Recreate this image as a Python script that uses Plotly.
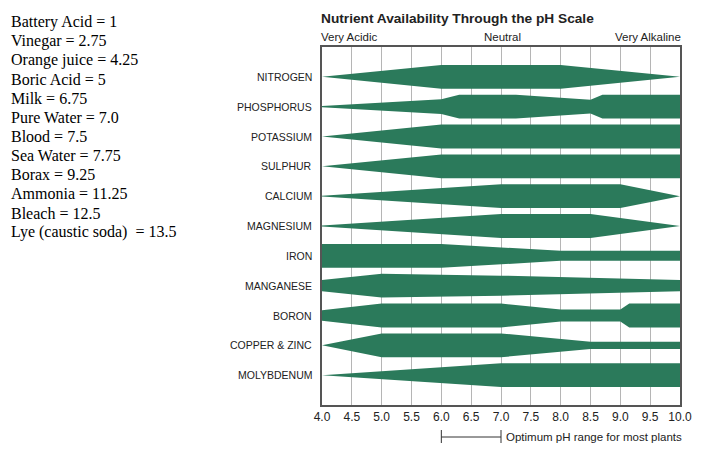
import plotly.graph_objects as go

# ---------------- data ----------------
household_items = ["Battery Acid = 1", "Vinegar = 2.75", "Orange juice = 4.25", "Boric Acid = 5",
                   "Milk = 6.75", "Pure Water = 7.0", "Blood = 7.5", "Sea Water = 7.75",
                   "Borax = 9.25", "Ammonia = 11.25", "Bleach = 12.5",
                   "Lye (caustic soda)\u00a0\u00a0= 13.5"]

nutrients = ["NITROGEN", "PHOSPHORUS", "POTASSIUM", "SULPHUR", "CALCIUM", "MAGNESIUM",
             "IRON", "MANGANESE", "BORON", "COPPER & ZINC", "MOLYBDENUM"]

# pH break points and relative availability (1 = full band) above / below the centre line
nitrogen_ph = [4.0, 6.0, 8.0, 10.0]
nitrogen_w = [0.0, 1.0, 1.0, 0.0]

phosphorus_ph = [4.0, 6.0, 6.3, 7.25, 8.5, 8.7, 10.0]
phosphorus_w = [0.05, 0.62, 1.0, 1.0, 0.58, 1.0, 1.0]

potassium_ph = [4.0, 6.0, 10.0]
potassium_w = [0.0, 1.0, 1.0]

sulphur_ph = [4.0, 6.0, 10.0]
sulphur_w = [0.0, 1.0, 1.0]

calcium_ph = [4.0, 7.0, 9.0, 10.0]
calcium_w = [0.03, 1.0, 1.0, 0.0]

magnesium_ph = [4.0, 7.0, 8.5, 10.0]
magnesium_w = [0.05, 1.0, 1.0, 0.0]

iron_ph = [4.0, 6.0, 8.0, 10.0]
iron_w = [1.0, 1.0, 0.42, 0.42]

manganese_ph = [4.0, 5.0, 7.0, 10.0]
manganese_w = [0.47, 1.0, 0.84, 0.47]

boron_ph = [4.0, 5.0, 7.0, 8.0, 9.0, 9.15, 10.0]
boron_w = [0.43, 1.0, 1.0, 0.5, 0.5, 1.0, 1.0]

copper_zinc_ph = [4.0, 5.0, 7.0, 8.5, 10.0]
copper_zinc_w = [0.0, 1.0, 1.0, 0.3, 0.3]

molybdenum_ph = [4.0, 7.0, 10.0]
molybdenum_w = [0.0, 1.0, 1.0]

profiles = [(nitrogen_ph, nitrogen_w), (phosphorus_ph, phosphorus_w), (potassium_ph, potassium_w),
            (sulphur_ph, sulphur_w), (calcium_ph, calcium_w), (magnesium_ph, magnesium_w),
            (iron_ph, iron_w), (manganese_ph, manganese_w), (boron_ph, boron_w),
            (copper_zinc_ph, copper_zinc_w), (molybdenum_ph, molybdenum_w)]

tick_values = [4.0, 4.5, 5.0, 5.5, 6.0, 6.5, 7.0, 7.5, 8.0, 8.5, 9.0, 9.5, 10.0]
tick_labels = ["4.0", "4.5", "5.0", "5.5", "6.0", "6.5", "7.0", "7.5", "8.0", "8.5", "9.0", "9.5", "10.0"]

optimum_range = [6.0, 7.0]

# ---------------- styling ----------------
GREEN = "#2b7a5b"
HALF = 0.4  # half-thickness of a full band, in row units
OFF = 8     # page body margin
W, H = 722 - OFF, 452 - OFF
L, R, T, B = 322 - OFF, 42, 47 - OFF, 47
PH_ = H - T - B
SANS = "Liberation Sans, Arial, sans-serif"
NARROW = "Liberation Sans Narrow, Arial Narrow, Liberation Sans, Arial, sans-serif"


def py(pix):
    """page pixel y -> paper y"""
    return (H - B - (pix - OFF)) / PH_


def px(pix):
    """page pixel x -> paper x"""
    return ((pix - OFF) - L) / (W - L - R)


fig = go.Figure()
for i, (ph, w) in enumerate(profiles):
    xs = list(ph) + list(reversed(ph))
    ys = [i - v * HALF for v in w] + [i + v * HALF for v in reversed(w)]
    fig.add_trace(go.Scatter(x=xs, y=ys, fill="toself", fillcolor=GREEN, mode="lines",
                             line=dict(width=0, color=GREEN), hoverinfo="skip",
                             showlegend=False))

annotations = []
for i, name in enumerate(nutrients):
    annotations.append(dict(x=px(314), y=i, xref="paper", yref="y", text=name, showarrow=False,
                            xanchor="right", yanchor="middle",
                            font=dict(family=SANS, size=10.5, color="#222")))

for j, txt in enumerate(household_items):
    annotations.append(dict(x=px(9), y=py(22 + j * 19.1), xref="paper", yref="paper", text=txt,
                            showarrow=False, xanchor="left", yanchor="middle",
                            font=dict(family="Liberation Serif, Times New Roman, serif", size=16,
                                      color="#000")))

annotations.append(dict(x=px(319), y=py(19), xref="paper", yref="paper",
                        text="<b>Nutrient Availability Through the pH Scale</b>", showarrow=False,
                        xanchor="left", yanchor="middle",
                        font=dict(family=SANS, size=13.7, color="#222")))
for txt, xx, anc in [("Very Acidic", px(319), "left"), ("Neutral", px(502), "center"),
                     ("Very Alkaline", px(683), "right")]:
    annotations.append(dict(x=xx, y=py(37), xref="paper", yref="paper", text=txt,
                            showarrow=False, xanchor=anc, yanchor="middle",
                            font=dict(family=NARROW, size=11.5, color="#222")))

annotations.append(dict(x=optimum_range[1], y=py(437), xref="x", yref="paper",
                        text="Optimum pH range for most plants", showarrow=False,
                        xanchor="left", yanchor="middle", xshift=3,
                        font=dict(family=NARROW, size=11.5, color="#222")))

shapes = [
    dict(type="line", xref="x", yref="paper", x0=optimum_range[0], x1=optimum_range[1],
         y0=py(437), y1=py(437), line=dict(color="#333", width=1)),
    dict(type="line", xref="x", yref="paper", x0=optimum_range[0], x1=optimum_range[0],
         y0=py(430), y1=py(443), line=dict(color="#333", width=1)),
    dict(type="line", xref="x", yref="paper", x0=optimum_range[1], x1=optimum_range[1],
         y0=py(430), y1=py(443), line=dict(color="#333", width=1)),
]

fig.update_layout(
    width=W, height=H, margin=dict(l=L, r=R, t=T, b=B, pad=0),
    paper_bgcolor="white", plot_bgcolor="white",
    annotations=annotations, shapes=shapes,
    xaxis=dict(range=[4, 10], tickvals=tick_values, ticktext=tick_labels, showgrid=True,
               gridcolor="#b5b5b5", gridwidth=1.3, showline=True, linecolor="#555",
               linewidth=1.5, mirror=True, ticks="", zeroline=False,
               tickfont=dict(family=NARROW, size=12, color="#222"), fixedrange=True),
    yaxis=dict(range=[11, -1], showticklabels=False, showgrid=False, showline=True,
               linecolor="#555", linewidth=1.5, mirror=True, ticks="", zeroline=False,
               fixedrange=True),
)

fig.write_html("out.html")
